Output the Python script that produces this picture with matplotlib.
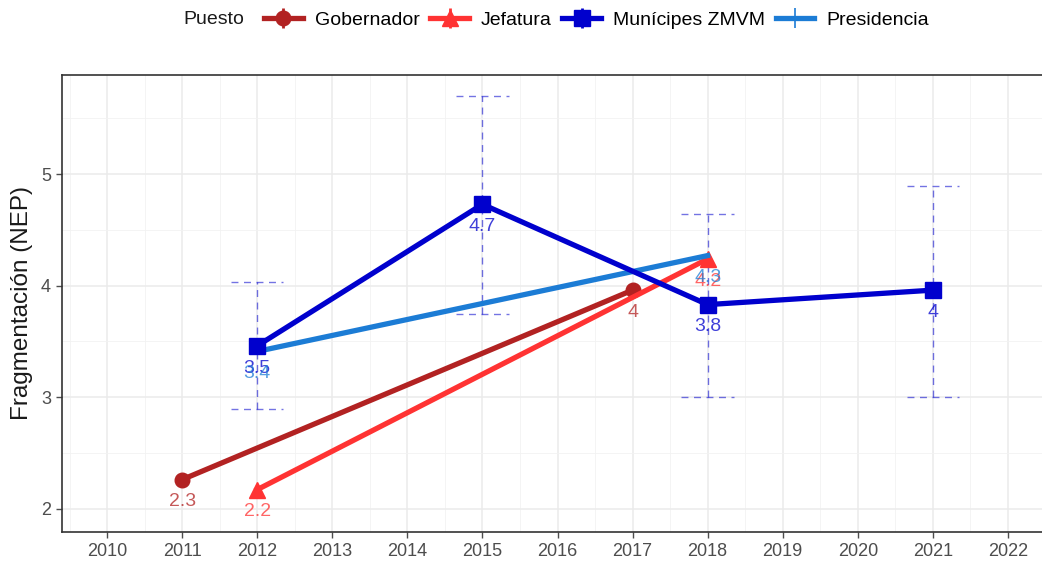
import matplotlib
matplotlib.use("Agg")
import matplotlib.pyplot as plt
from matplotlib.lines import Line2D
from matplotlib.legend_handler import HandlerTuple

plt.rcParams['font.family'] = ['Liberation Sans', 'DejaVu Sans']

# datos por puesto
gob_years = [2011, 2017]
gob_nep = [2.26, 3.96]

jef_years = [2012, 2018]
jef_nep = [2.17, 4.24]

mun_years = [2012, 2015, 2018, 2021]
mun_nep = [3.46, 4.73, 3.83, 3.96]
mun_low = [2.89, 3.75, 3.00, 3.00]
mun_high = [4.03, 5.70, 4.64, 4.89]

pres_years = [2012, 2018]
pres_nep = [3.41, 4.27]

year_ticks = list(range(2010, 2023))
series_names = ["Gobernador", "Jefatura", "Munícipes ZMVM", "Presidencia"]

c_gob = "#B22222"
c_jef = "#FF3333"
c_mun = "#0000CD"
c_pres = "#1C7CD5"

fig = plt.figure(figsize=(10.42, 5.65), dpi=100)
ax = fig.add_axes([62/1042, 33/565, 991/1042, 457/565])

# grid like theme_bw
ax.set_xticks(year_ticks)
ax.set_xticks([y + 0.5 for y in year_ticks[:-1]] + [2009.5], minor=True)
ax.set_yticks([2, 3, 4, 5])
ax.set_yticks([2.5, 3.5, 4.5, 5.5], minor=True)
ax.grid(which='major', color='#EBEBEB', linewidth=1.1)
ax.grid(which='minor', color='#F2F2F2', linewidth=0.6)
ax.set_axisbelow(True)

# error bars for municipes
for x, lo, hi in zip(mun_years, mun_low, mun_high):
    ax.plot([x, x], [lo, hi], color=c_mun, alpha=0.55, lw=1.0, ls=(0, (5, 4)))
    ax.plot([x - 0.35, x + 0.35], [lo, lo], color=c_mun, alpha=0.55, lw=1.0, ls=(0, (5, 4)))
    ax.plot([x - 0.35, x + 0.35], [hi, hi], color=c_mun, alpha=0.55, lw=1.0, ls=(0, (5, 4)))

ax.plot(gob_years, gob_nep, color=c_gob, lw=3.8, marker='o', ms=10.5, zorder=3)
ax.plot(jef_years, jef_nep, color=c_jef, lw=3.8, marker='^', ms=12, zorder=3)
ax.plot(pres_years, pres_nep, color=c_pres, lw=3.8, zorder=3)
ax.plot(mun_years, mun_nep, color=c_mun, lw=3.8, marker='s', ms=11, zorder=4)

# value labels
for yrs, vals, c in [(gob_years, gob_nep, c_gob), (jef_years, jef_nep, c_jef),
                     (mun_years, mun_nep, c_mun), (pres_years, pres_nep, c_pres)]:
    for x, v in zip(yrs, vals):
        lab = f"{round(v, 1):g}"
        ax.text(x, v - 0.2, lab, color=c, alpha=0.75, fontsize=14,
                ha='center', va='center', zorder=5)

ax.set_xlim(2009.4, 2022.6)
ax.set_ylim(1.79, 5.89)
ax.set_ylabel("Fragmentación (NEP)", fontsize=17.5, color='#1A1A1A', labelpad=6)
ax.tick_params(axis='both', which='major', labelsize=13, colors='#4D4D4D',
               length=4, width=1, pad=4)
ax.tick_params(which='minor', length=0)
for s in ax.spines.values():
    s.set_color('#333333')
    s.set_linewidth(1.2)

# legend
handles = [
    (Line2D([], [], color=c_gob, lw=3.8, marker='o', ms=10.5),
     Line2D([], [], color=c_gob, lw=0, marker='|', ms=14, mew=2)),
    (Line2D([], [], color=c_jef, lw=3.8, marker='^', ms=12),
     Line2D([], [], color=c_jef, lw=0, marker='|', ms=14, mew=2)),
    (Line2D([], [], color=c_mun, lw=3.8, marker='s', ms=11),
     Line2D([], [], color=c_mun, lw=0, marker='|', ms=14, mew=2)),
    (Line2D([], [], color=c_pres, lw=3.8),
     Line2D([], [], color=c_pres, lw=0, marker='|', ms=14, mew=1.2)),
]
fig.text(183/1042, 1 - 20/565, "Puesto", fontsize=14, color='#1A1A1A',
         ha='left', va='center')
fig.legend(handles, series_names, loc='center left',
           bbox_to_anchor=(264/1042, 1 - 20/565), ncol=4, frameon=False,
           fontsize=14, handlelength=2.0, handletextpad=0.6, columnspacing=0.55,
           handler_map={tuple: HandlerTuple(ndivide=1)}, borderpad=0,
           borderaxespad=0)

fig.savefig("out.png", dpi=100)
